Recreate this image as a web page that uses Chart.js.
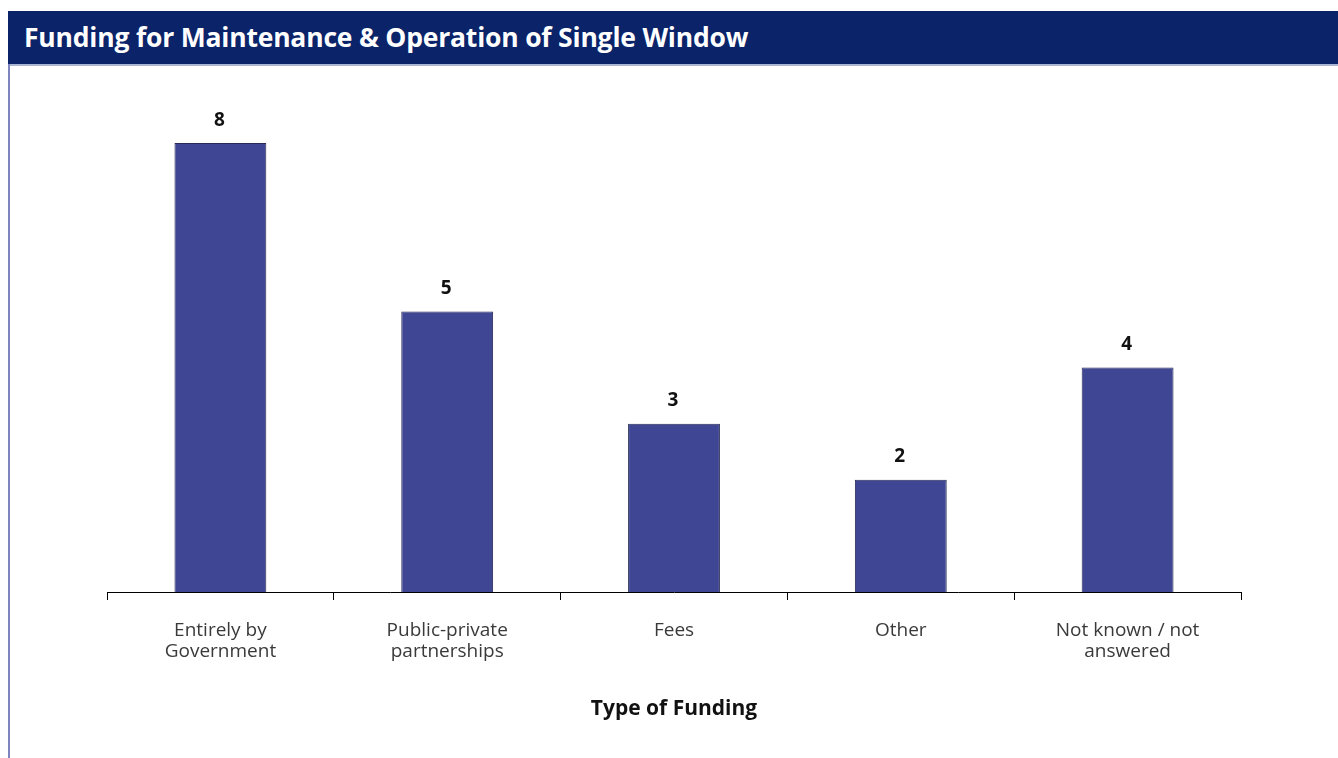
<!DOCTYPE html>
<html>
<head>
<meta charset="utf-8">
<script src="https://cdn.jsdelivr.net/npm/chart.js@4/dist/chart.umd.min.js"></script>
<style>
  html, body { margin: 0; padding: 0; background: #fff; width: 1338px; height: 758px; overflow: hidden; }
  #header { position: absolute; left: 8px; top: 11px; width: 1330px; height: 53px; background: #0b2369;
    border-bottom: 2px solid #a9b5d3; box-sizing: content-box; }
  #header h1 { margin: 0; position: absolute; left: 16px; top: 11px; font: bold 26.5px "Open Sans", sans-serif;
    color: #fff; letter-spacing: -0.2px; line-height: 30px; white-space: nowrap; }
  #leftline { position: absolute; left: 8px; top: 64px; width: 2px; height: 694px; background: #7d84be; }
  #wrap { position: absolute; left: 0; top: 0; width: 1338px; height: 758px; }
</style>
</head>
<body>
<div id="wrap"><canvas id="c" width="1338" height="758"></canvas></div>
<div id="header"><h1>Funding for Maintenance &amp; Operation of Single Window</h1></div>
<div id="leftline"></div>
<script>
const categories = [["Entirely by", "Government"], ["Public-private", "partnerships"], "Fees", "Other", ["Not known / not", "answered"]];
const fundingCounts = [8, 5, 3, 2, 4];
const xAxisTitle = "Type of Funding";

const valueLabels = {
  id: 'valueLabels',
  afterDatasetsDraw(chart) {
    const ctx = chart.ctx;
    const meta = chart.getDatasetMeta(0);
    ctx.save();
    ctx.font = 'bold 19px "Open Sans", sans-serif';
    ctx.fillStyle = '#111';
    ctx.textAlign = 'center';
    ctx.textBaseline = 'middle';
    meta.data.forEach((bar, i) => {
      ctx.fillText(String(fundingCounts[i]), bar.x - 1, bar.y - 23);
    });
    ctx.restore();
  }
};

new Chart(document.getElementById('c'), {
  type: 'bar',
  data: {
    labels: categories,
    datasets: [{
      data: fundingCounts,
      backgroundColor: '#3f4795',
      borderColor: '#262a55',
      borderWidth: 1,
      barPercentage: 0.405,
      categoryPercentage: 1.0
    }]
  },
  options: {
    responsive: false,
    animation: false,
    layout: { padding: { left: 107, right: 97, top: 87, bottom: 0 } },
    plugins: { legend: { display: false }, tooltip: { enabled: false } },
    scales: {
      y: { display: false, min: 0, max: 9 },
      x: {
        afterFit: (s) => { s.height = 166; },
        border: { display: true, color: '#000', width: 1 },
        grid: { display: true, drawOnChartArea: false, drawTicks: true, tickLength: 8, color: '#000', offset: true },
        ticks: { color: '#3a3a3a', padding: 20, font: { family: '"Open Sans", sans-serif', size: 19, lineHeight: 1.1 }, maxRotation: 0 },
        title: { display: true, text: xAxisTitle, color: '#111', font: { family: '"Open Sans", sans-serif', size: 21, weight: 'bold' }, padding: { top: 0, bottom: 36 } }
      }
    }
  },
  plugins: [valueLabels]
});
</script>
</body>
</html>
